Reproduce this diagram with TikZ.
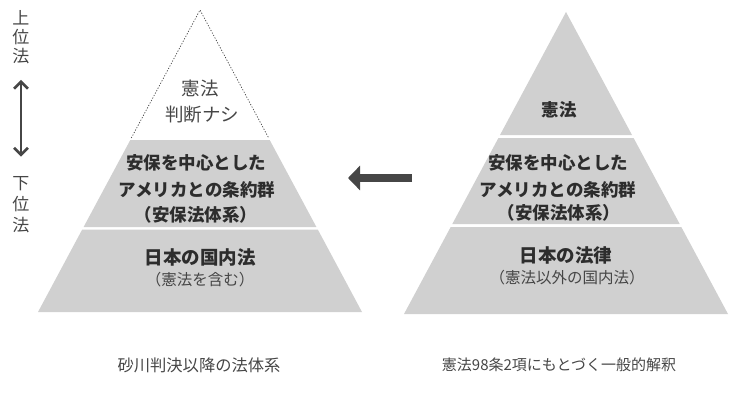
\documentclass[tikz,border=0pt]{standalone}
\usepackage{fontspec}
\setmainfont{Noto Sans CJK JP}
\usetikzlibrary{arrows.meta}
\definecolor{pyr}{RGB}{208,208,208}
\definecolor{ink}{RGB}{45,45,45}
\definecolor{soft}{RGB}{70,70,70}
\begin{document}
\begin{tikzpicture}[x=1pt,y=-1pt,
  band/.style={fill=pyr,draw=none},
  boldlbl/.style={font=\fontsize{17.5}{20}\selectfont\bfseries, text=ink, inner sep=0pt},
  reglbl/.style={font=\fontsize{18.5}{20}\selectfont, text=soft, inner sep=0pt},
  sublbl/.style={font=\fontsize{15.5}{18}\selectfont, text=soft, inner sep=0pt},
  caplbl/.style={text=soft, inner sep=0pt},
  vlbl/.style={font=\fontsize{17}{20}\selectfont, text=soft, inner sep=0pt, align=center},
  dashedge/.style={draw=soft, line width=0.7pt, dash pattern=on 1.2pt off 1.6pt}]
\useasboundingbox (0,0) rectangle (752,412);

% ---------- left pyramid (apex 200,10 ; base y 312, half width 162)
\coordinate (La) at (200,10);
\draw[dashedge] (131.3,138) -- (La) -- (268.7,138);
\fill[band] (130.3,140) -- (269.7,140) -- (316.4,227) -- (83.6,227) -- cycle;
\fill[band] (82.2,229.5) -- (317.8,229.5) -- (362,312) -- (38,312) -- cycle;

% ---------- right pyramid (apex 566,12 ; base y 314, half width 162)
\fill[band] (566,12) -- (632,135) -- (500,135) -- cycle;
\fill[band] (498.4,138) -- (633.6,138) -- (679.7,224) -- (452.3,224) -- cycle;
\fill[band] (450.7,227) -- (681.3,227) -- (728,314) -- (404,314) -- cycle;

% ---------- left texts
\node[reglbl] (lk1) at (200,88) {憲法};
\node[reglbl] (lk2) at (202,115) {判断ナシ};
\node[boldlbl] (lm1) at (196,163) {安保を中心とした};
\node[boldlbl] (lm2) at (197,190) {アメリカとの条約群};
\node[boldlbl] (lm3) at (196,215) {（安保法体系）};
\node[boldlbl,font=\fontsize{18.5}{20}\selectfont\bfseries] (lb1) at (200,257) {日本の国内法};
\node[sublbl] (lb2) at (200,280) {（憲法を含む）};

% ---------- right texts
\node[boldlbl] (rk1) at (559,110) {憲法};
\node[boldlbl] (rm1) at (558,163) {安保を中心とした};
\node[boldlbl] (rm2) at (558,190) {アメリカとの条約群};
\node[boldlbl] (rm3) at (559,213) {（安保法体系）};
\node[boldlbl,font=\fontsize{18.5}{20}\selectfont\bfseries] (rb1) at (566,255) {日本の法律};
\node[sublbl] (rb2) at (567,278) {（憲法以外の国内法）};

% ---------- captions
\node[caplbl,font=\fontsize{16.3}{18}\selectfont] (capL) at (199,365) {砂川判決以降の法体系};
\node[caplbl,font=\fontsize{15}{18}\selectfont] (capR) at (559,365) {憲法98条2項にもとづく一般的解釈};

% ---------- left vertical scale
\node[vlbl] (up) at (21,37) {上\\[-1pt]位\\[-1pt]法};
\node[vlbl] (down) at (21,205) {下\\[1pt]位\\[1pt]法};
\draw[soft, line width=2.6pt, {Straight Barb[length=7pt,width=14pt]}-{Straight Barb[length=7pt,width=14pt]}]
  ([yshift=-16pt]up.south) -- ([yshift=20pt]down.north);

% ---------- middle arrow
\coordinate (mt) at (412,178);
\coordinate (mh) at (348,178);
\draw[soft, line width=7.5pt, -{Triangle[length=12pt,width=24pt]}] (mt) -- (mh);
\end{tikzpicture}
\end{document}
